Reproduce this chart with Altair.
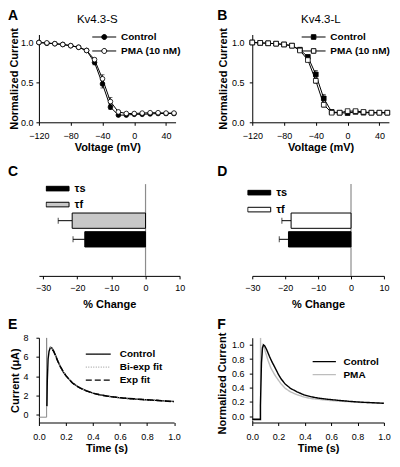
import altair as alt
import pandas as pd

FONT = "Liberation Sans"

# ---------------- data ----------------
voltage = [-120, -110, -100, -90, -80, -70, -60, -50, -40, -30, -20, -10, 0, 10, 20, 30, 40, 50]

a_ctrl = [1.0, 0.99, 0.985, 0.975, 0.96, 0.94, 0.9, 0.75, 0.48, 0.19, 0.09, 0.09, 0.10, 0.10, 0.105, 0.11, 0.11, 0.11]
a_ctrl_err = [0, 0, 0, 0, 0, 0, 0.01, 0.03, 0.05, 0.03, 0.01, 0, 0, 0, 0, 0, 0, 0]
a_pma = [1.0, 0.995, 0.985, 0.975, 0.96, 0.94, 0.9, 0.785, 0.545, 0.26, 0.13, 0.11, 0.11, 0.115, 0.12, 0.12, 0.115, 0.115]
a_pma_err = [0, 0, 0, 0, 0, 0, 0.01, 0.02, 0.05, 0.05, 0.02, 0, 0, 0, 0, 0, 0, 0]

b_ctrl = [1.0, 0.995, 0.99, 0.985, 0.975, 0.96, 0.91, 0.82, 0.60, 0.30, 0.13, 0.12, 0.115, 0.13, 0.12, 0.12, 0.12, 0.12]
b_ctrl_err = [0, 0, 0, 0, 0, 0, 0.01, 0.02, 0.05, 0.05, 0.02, 0, 0, 0, 0, 0, 0, 0]
b_pma = [1.0, 0.995, 0.99, 0.985, 0.975, 0.96, 0.90, 0.78, 0.52, 0.22, 0.12, 0.12, 0.14, 0.14, 0.13, 0.12, 0.12, 0.12]
b_pma_err = [0, 0, 0, 0, 0, 0, 0.01, 0.02, 0.03, 0.03, 0.01, 0, 0, 0, 0, 0, 0, 0]

iv_series = ["Control", "PMA (10 nM)"]

tau_keys = ["τf", "τs"]            # top bar, bottom bar
tau_slots = [" ", "τf", "τs", "  "]  # band slots (empty rows above / below the bars)
tau_legend = ["τs", "τf"]
c_change = [-21.5, -17.8]
c_err = [4.1, 3.45]
d_change = [-18.2, -19.0]
d_err = [2.8, 2.8]

# panel E: recorded trace and fits
e_art_t = [0.0, 0.057, 0.057, 0.059]
e_art_v = [-0.25, -0.25, 8.0, 0.9]
e_ctrl_t = [0.059, 0.062, 0.068, 0.075, 0.085, 0.095, 0.11, 0.125, 0.14, 0.16, 0.18, 0.2, 0.225, 0.25, 0.28,
            0.31, 0.35, 0.4, 0.45, 0.5, 0.56, 0.62, 0.7, 0.78, 0.86, 0.93, 1.0]
e_ctrl_v = [0.9, 3.5, 5.8, 6.6, 7.0, 6.95, 6.6, 6.1, 5.55, 4.95, 4.45, 4.05, 3.65, 3.3, 3.0,
            2.75, 2.5, 2.25, 2.08, 1.95, 1.83, 1.74, 1.64, 1.56, 1.5, 1.44, 1.38]
e_bi_t = [0.085, 0.095, 0.11, 0.125, 0.14, 0.16, 0.18, 0.2, 0.225, 0.25, 0.28, 0.31, 0.35, 0.4, 0.45,
          0.5, 0.56, 0.62, 0.7, 0.78, 0.86, 0.93, 1.0]
e_bi_v = [7.05, 6.92, 6.58, 6.1, 5.56, 4.96, 4.46, 4.06, 3.66, 3.31, 3.0, 2.76, 2.5, 2.26, 2.08,
          1.95, 1.83, 1.73, 1.63, 1.55, 1.49, 1.44, 1.39]
e_exp_t = [0.1, 0.11, 0.125, 0.14, 0.16, 0.18, 0.2, 0.225, 0.25, 0.28, 0.31, 0.35, 0.4, 0.45, 0.5,
           0.56, 0.62, 0.7, 0.78, 0.86, 0.93, 1.0]
e_exp_v = [6.75, 6.55, 6.05, 5.55, 4.97, 4.47, 4.07, 3.64, 3.28, 2.97, 2.73, 2.48, 2.24, 2.07, 1.95,
           1.84, 1.75, 1.66, 1.58, 1.51, 1.44, 1.36]
e_series = ["Control", "Bi-exp fit", "Exp fit"]

# panel F: normalized traces
f_ctrl_t = [0.0, 0.062, 0.062, 0.064, 0.07, 0.078, 0.086, 0.095, 0.11, 0.13, 0.15, 0.17, 0.2, 0.22, 0.25,
            0.29, 0.34, 0.39, 0.45, 0.51, 0.58, 0.66, 0.75, 0.83, 0.92, 1.0]
f_ctrl_v = [-0.045, -0.045, 0.15, 0.3, 0.75, 0.96, 1.0, 0.985, 0.93, 0.84, 0.76, 0.69, 0.58, 0.52, 0.45,
            0.39, 0.34, 0.30, 0.27, 0.25, 0.235, 0.22, 0.205, 0.195, 0.187, 0.18]
f_pma_t = [0.0, 0.063, 0.063, 0.065, 0.07, 0.076, 0.081, 0.09, 0.1, 0.12, 0.14, 0.17, 0.2, 0.22, 0.25,
           0.29, 0.34, 0.39, 0.45, 0.51, 0.58, 0.66, 0.75, 0.83, 0.92, 1.0]
f_pma_v = [-0.06, -0.06, 1.1, 0.5, 0.8, 0.95, 1.0, 0.97, 0.9, 0.78, 0.68, 0.58, 0.5, 0.45, 0.39,
           0.34, 0.3, 0.27, 0.245, 0.235, 0.22, 0.21, 0.2, 0.19, 0.185, 0.18]
f_series = ["Control", "PMA"]

# ---------------- helpers ----------------
CIRCLE_LEG = ("M-1,0L-0.21,0M0.21,0L1,0M0.21,0A0.21,0.21,0,1,1,-0.21,0"
              "A0.21,0.21,0,1,1,0.21,0Z")
SQUARE_LEG = "M-1,0L-0.19,0M0.19,0L1,0M-0.19,-0.19L0.19,-0.19L0.19,0.19L-0.19,0.19Z"
RECT_LEG = "M-1,-0.2L1,-0.2L1,0.2L-1,0.2Z"


def text_layer(text, x, y, size, weight, align="left", baseline="top"):
    return alt.Chart(pd.DataFrame({"t": [text]})).mark_text(
        font=FONT, fontSize=size, fontWeight=weight, align=align, baseline=baseline, color="black"
    ).encode(x=alt.value(x), y=alt.value(y), text="t:N")


def iv_panel(ctrl, ctrl_err, pma, pma_err, point_shape, leg_path, letter, title, title_x,
             width, height, leg_x, ytitle_x, ylab_pad):
    rows = []
    for name, vals, errs in ((iv_series[0], ctrl, ctrl_err), (iv_series[1], pma, pma_err)):
        for v, y, e in zip(voltage, vals, errs):
            rows.append({"v": v, "val": y, "err": e, "lo": y - e, "hi": y + e, "s": name})
    df = pd.DataFrame(rows)
    xs = alt.Scale(domain=[-120, 52], nice=False, zero=False)
    ys = alt.Scale(domain=[0, 1.1], nice=False, zero=False)
    xax = alt.Axis(values=[-120, -80, -40, 0, 40], title="Voltage (mV)", labelPadding=5.8,
                   titleY=28.5, titleBaseline="alphabetic")
    yax = alt.Axis(values=[0, 0.5, 1.0], format=".1f", title="Normalized Current", labelPadding=ylab_pad,
                   titleX=ytitle_x, titleY=height / 2, titleAngle=270, titleAlign="center",
                   titleBaseline="alphabetic")
    X = alt.X("v:Q", scale=xs, axis=xax)
    base = alt.Chart(df)
    lines = base.mark_line(color="black", strokeWidth=1).encode(
        x=X, y=alt.Y("val:Q", scale=ys, axis=yax), detail="s:N")
    ebase = base.transform_filter("datum.err > 0")
    err = ebase.mark_rule(color="black", strokeWidth=0.8).encode(
        x=X, y=alt.Y("lo:Q", scale=ys, axis=yax), y2="hi:Q")
    cap_lo = ebase.mark_tick(orient="horizontal", size=4, thickness=0.8, color="black").encode(
        x=X, y=alt.Y("lo:Q", scale=ys, axis=yax))
    cap_hi = ebase.mark_tick(orient="horizontal", size=4, thickness=0.8, color="black").encode(
        x=X, y=alt.Y("hi:Q", scale=ys, axis=yax))
    pts = base.mark_point(shape=point_shape, filled=True, size=22, stroke="black", strokeWidth=0.8,
                          opacity=1).encode(
        x=X, y=alt.Y("val:Q", scale=ys, axis=yax),
        fill=alt.Fill("s:N", scale=alt.Scale(domain=iv_series, range=["black", "white"]),
                      legend=alt.Legend(orient="none", legendX=leg_x, legendY=-4.5, title=None,
                                        symbolType=leg_path, symbolSize=576, symbolStrokeColor="black",
                                        symbolStrokeWidth=1, labelOffset=4.3, rowPadding=0,
                                        clipHeight=14, padding=0, labelFontSize=10,
                                        labelFontWeight="bold")))
    lab = text_layer(letter, -31 if letter == "A" else -35, -25.5, 14, "bold")
    ttl = text_layer(title, title_x, -12, 11.5, "normal", align="center", baseline="alphabetic")
    return alt.layer(lines, err, cap_lo, cap_hi, pts, lab, ttl).properties(width=width, height=height)


def bar_panel(vals, errs, fill_f, letter, letter_x, width, height, dom_lo, leg_x, leg_y, clip_h):
    df = pd.DataFrame({"k": tau_keys, "val": vals, "err": errs})
    df["lo"] = df["val"] - df["err"]
    xs = alt.Scale(domain=[dom_lo, 10], nice=False, zero=False)
    xax = alt.Axis(values=[-30, -20, -10, 0, 10], title="% Change", labelPadding=5,
                   titleY=31.5, titleBaseline="alphabetic")
    Y = alt.Y("k:N", scale=alt.Scale(domain=tau_slots, paddingInner=0.18, paddingOuter=0.55), axis=None)
    base = alt.Chart(df)
    zero = alt.Chart(pd.DataFrame({"z": [0]})).mark_rule(color="#8c8c8c", strokeWidth=1.2).encode(
        x=alt.X("z:Q", scale=xs, axis=xax))
    err = base.mark_rule(color="black", strokeWidth=1).encode(
        x=alt.X("lo:Q", scale=xs, axis=xax), x2="val:Q", y=Y)
    cap = base.mark_tick(orient="vertical", size=6, thickness=1, color="black").encode(
        x=alt.X("lo:Q", scale=xs, axis=xax), y=Y)
    bars = base.mark_bar(stroke="black", strokeWidth=1).encode(
        x=alt.X("val:Q", scale=xs, axis=xax), x2=alt.datum(0), y=Y,
        fill=alt.Fill("k:N", scale=alt.Scale(domain=tau_legend, range=["black", fill_f]),
                      legend=alt.Legend(orient="none", legendX=leg_x, legendY=leg_y, title=None,
                                        symbolType=RECT_LEG, symbolSize=529, symbolStrokeColor="black",
                                        symbolStrokeWidth=1, labelOffset=5, rowPadding=0,
                                        clipHeight=clip_h, padding=0, labelFontSize=11,
                                        labelFontWeight="bold")))
    lab = text_layer(letter, letter_x, -19.5, 14, "bold")
    return alt.layer(zero, err, cap, bars, lab).properties(width=width, height=height)


def trace_frame(groups):
    rows = []
    for name, ts, vs in groups:
        for i, (t, v) in enumerate(zip(ts, vs)):
            rows.append({"t": t, "val": v, "s": name, "i": i})
    return pd.DataFrame(rows)


def trace_panel(df, art_df, domain, series, colors, dashes, yvals, yfmt, ytitle, letter, letter_x,
                width, height, ytitle_x, ytitle_y, ylab_pad, leg_x, leg_y, leg_size, leg_off, clip_h):
    xs = alt.Scale(domain=[0, 1.0], nice=False, zero=False)
    ys = alt.Scale(domain=domain, nice=False, zero=False)
    xax = alt.Axis(values=[0, 0.2, 0.4, 0.6, 0.8, 1.0], format=".1f", title="Time (s)", labelPadding=7,
                   titleY=29, titleBaseline="alphabetic")
    yax = alt.Axis(values=yvals, format=yfmt, title=ytitle, labelPadding=ylab_pad, titleX=ytitle_x,
                   titleY=ytitle_y, titleAngle=270, titleAlign="center", titleBaseline="alphabetic")
    X = alt.X("t:Q", scale=xs, axis=xax)
    Y = alt.Y("val:Q", scale=ys, axis=yax)
    leg = alt.Legend(orient="none", legendX=leg_x, legendY=leg_y, title=None, symbolType="stroke",
                     symbolSize=leg_size, symbolStrokeWidth=1.3, labelOffset=leg_off,
                     rowPadding=0, clipHeight=clip_h, padding=0, labelFontSize=10,
                     labelFontWeight="bold")
    layers = []
    if art_df is not None:
        layers.append(alt.Chart(art_df).mark_line(color="#8a8a8a", strokeWidth=1, clip=True).encode(
            x=X, y=Y, order="i:Q"))
    layers.append(alt.Chart(df).mark_line(strokeWidth=1.4, clip=True).encode(
        x=X, y=Y, order="i:Q",
        color=alt.Color("s:N", scale=alt.Scale(domain=series, range=colors), legend=leg),
        strokeDash=alt.StrokeDash("s:N", scale=alt.Scale(domain=series, range=dashes), legend=leg)))
    layers.append(text_layer(letter, letter_x, -20.2, 14, "bold"))
    return alt.layer(*layers).properties(width=width, height=height)


# ---------------- panels ----------------
A = iv_panel(a_ctrl, a_ctrl_err, a_pma, a_pma_err, "circle", CIRCLE_LEG, "A", "Kv4.3-S", 58.5,
             137, 88, 53, -21.5, 3)
B = iv_panel(b_ctrl, b_ctrl_err, b_pma, b_pma_err, "square", SQUARE_LEG, "B", "Kv4.3-L", 68.8,
             137, 88, 49, -26, 5.3)

C = bar_panel(c_change, c_err, "#c8c8c8", "C", -31, 141.1, 92, -31.25, 6.7, -3.5, 16)
D = bar_panel(d_change, d_err, "white", "D", -35, 132, 92, -30, -5, 0.2, 16.7)

e_df = trace_frame([(e_series[0], e_ctrl_t, e_ctrl_v), (e_series[1], e_bi_t, e_bi_v),
                    (e_series[2], e_exp_t, e_exp_v)])
e_art = trace_frame([("art", e_art_t, e_art_v)])
E = trace_panel(e_df, e_art, [-0.8, 8], e_series, ["black", "#a8a8a8", "black"],
                [[1, 0], [1, 1.5], [6, 3]], [0, 2, 4, 6, 8], "d", "Current (μA)", "E", -31,
                135.5, 85, -20, 42.5, 8, 46, 10, 625, 8, 13)

f_df = trace_frame([(f_series[1], f_pma_t, f_pma_v), (f_series[0], f_ctrl_t, f_ctrl_v)])
F = trace_panel(f_df, None, [-0.09, 1.1], f_series, ["black", "#bdbdbd"], [[1, 0], [1, 0]],
                [0, 0.2, 0.4, 0.6, 0.8, 1.0], ".1f", "Normalized Current", "F", -35,
                132, 85, -26.7, 45.5, 5.3, 59.7, 17.5, 543, 6.7, 13)

chart = alt.concat(A, B, C, D, E, F, columns=2, spacing={"row": 62, "column": 71.9},
                   bounds="flush", align="each").resolve_scale(
    fill="independent", color="independent", strokeDash="independent"
).resolve_legend(
    fill="independent", color="independent", strokeDash="independent"
).properties(padding=0).configure_view(
    stroke=None
).configure_axis(
    labelFont=FONT, titleFont=FONT, labelFontSize=9, titleFontSize=11, titleFontWeight="bold",
    labelColor="black", titleColor="black", domainColor="black", tickColor="black", tickSize=3,
    domainWidth=1, tickWidth=1, grid=False, labelFlush=False, labelOverlap=False
).configure_legend(
    labelFont=FONT, labelColor="black"
)

chart.save("out.html", embed_options={"renderer": "svg", "actions": False})
